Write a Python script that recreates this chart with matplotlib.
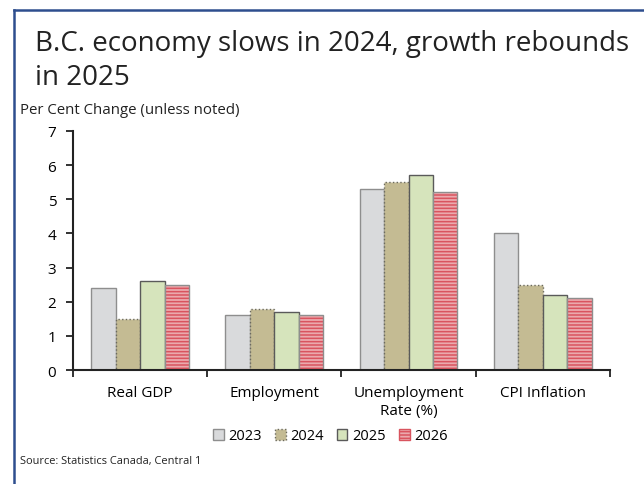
import matplotlib.pyplot as plt
import numpy as np
from matplotlib.lines import Line2D
from matplotlib.patches import Patch

plt.rcParams['font.family'] = ['Open Sans', 'DejaVu Sans']
plt.rcParams['hatch.linewidth'] = 1.1

categories = ['Real GDP', 'Employment', 'Unemployment\nRate (%)', 'CPI Inflation']
years = ['2023', '2024', '2025', '2026']
v2023 = [2.4, 1.6, 5.3, 4.0]
v2024 = [1.5, 1.8, 5.5, 2.5]
v2025 = [2.6, 1.7, 5.7, 2.2]
v2026 = [2.5, 1.6, 5.2, 2.1]

fig = plt.figure(figsize=(6.44, 4.85), dpi=100)
ax = fig.add_axes([0.1134, 0.235, 0.947 - 0.1134, 0.728 - 0.235])

x = np.arange(len(categories))
w = 0.182
offsets = [-1.5 * w, -0.5 * w, 0.5 * w, 1.5 * w]

ax.bar(x + offsets[0], v2023, w, color='#D9DADC', edgecolor='#8E8E8E', linewidth=1.0)
ax.bar(x + offsets[1], v2024, w, color='#C4BB93', edgecolor='#6B6A5E', linewidth=1.0, linestyle=':')
ax.bar(x + offsets[2], v2025, w, color='#D6E4BC', edgecolor='#5A5A5A', linewidth=1.0)
# 2026 forecast: striped fill then a plain outline on top
ax.bar(x + offsets[3], v2026, w, color='#EBA9AD', edgecolor='#D9545F', hatch='-----', linewidth=0)
ax.bar(x + offsets[3], v2026, w, fill=False, edgecolor='#8E8E8E', linewidth=1.0)

ax.set_xlim(-0.5, len(categories) - 0.5)
ax.set_ylim(0, 7)
ax.set_yticks(range(8))
ax.set_xticks(x)
ax.set_xticklabels(categories, fontsize=11, linespacing=1.25)
ax.set_xticks(np.arange(-0.5, len(categories)), minor=True)
ax.tick_params(axis='x', which='major', length=0, pad=11)
ax.tick_params(axis='x', which='minor', length=5, width=1.3, direction='out', color='#222222')
ax.tick_params(axis='y', length=5, width=1.3, direction='out', color='#222222', labelsize=11, pad=7)

for s in ['top', 'right']:
    ax.spines[s].set_visible(False)
for s in ['left', 'bottom']:
    ax.spines[s].set_color('#222222')
    ax.spines[s].set_linewidth(1.5)

handles = [
    Patch(facecolor='#D9DADC', edgecolor='#8E8E8E'),
    Patch(facecolor='#C4BB93', edgecolor='#6B6A5E', linestyle=':'),
    Patch(facecolor='#D6E4BC', edgecolor='#5A5A5A'),
    Patch(facecolor='#EBA9AD', edgecolor='#D9545F', hatch='-----'),
]
fig.legend(handles, years, loc='center', bbox_to_anchor=(330 / 644, 1 - 437 / 485),
           ncol=4, frameon=False, fontsize=10.5, handlelength=0.75, handleheight=0.75,
           handletextpad=0.3, columnspacing=0.9)

fig.text(35 / 644, 1 - 61 / 485, 'B.C. economy slows in 2024, growth rebounds\nin 2025',
         fontsize=20, va='center', ha='left', color='#222222', linespacing=1.3)
fig.text(20 / 644, 1 - 110 / 485, 'Per Cent Change (unless noted)', fontsize=10.8,
         va='center', ha='left', color='#222222')
fig.text(20 / 644, 1 - 462 / 485, 'Source: Statistics Canada, Central 1', fontsize=7.9,
         va='center', ha='left', color='#222222')

# frame lines along the top and left edges
border = '#2E4E8E'
yb = 1 - 10.5 / 485
xb = 13.5 / 644
fig.add_artist(Line2D([xb, xb], [0, yb], color=border, linewidth=1.8))
fig.add_artist(Line2D([xb, 1], [yb, yb], color=border, linewidth=1.8))

fig.savefig('out.png', dpi=100)
